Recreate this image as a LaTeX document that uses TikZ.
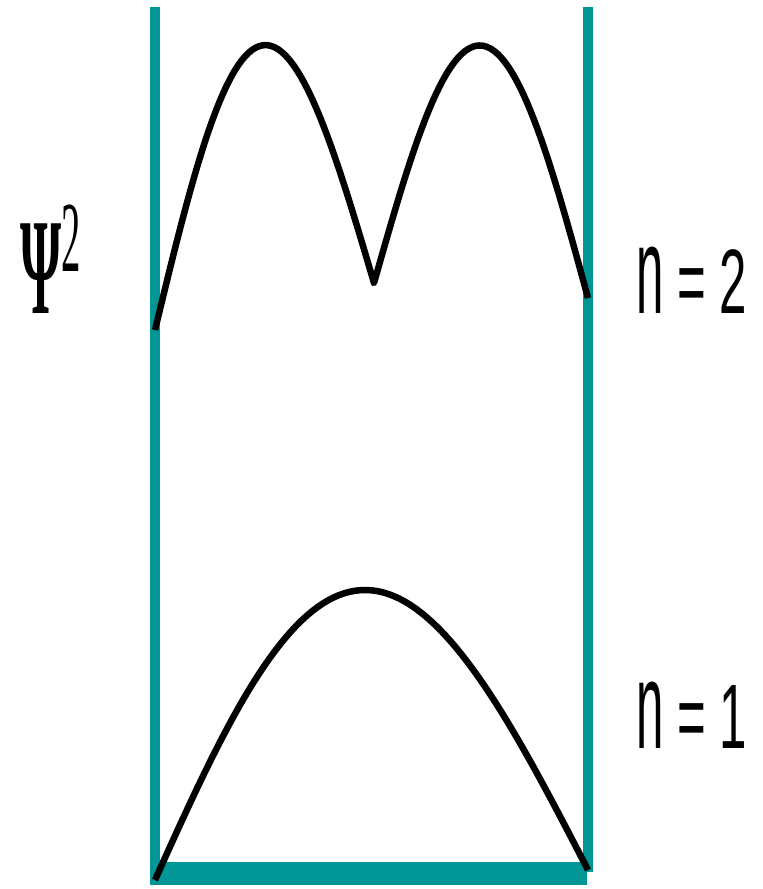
\documentclass[tikz,border=0pt]{standalone}
\usepackage{fontspec}
\setsansfont{Liberation Sans}
\newfontfamily\psifont{Liberation Serif}
\definecolor{wallteal}{RGB}{0,150,150}
\tikzset{
    wall/.style={line width=0.2cm, wallteal},
    wave/.style={line width=0.13cm, black, line join=round},
    level/.style={anchor=base west, inner sep=0pt, font=\sffamily\fontsize{28}{30}\selectfont},
}
\newcommand{\tallbox}[1]{\scalebox{1}[1.86]{#1}}
\begin{document}
\begin{tikzpicture}[x=0.02cm,y=-0.02cm]
        \useasboundingbox (0,0) rectangle (763,889);
        % box
            \draw[wall] (155,7) -- (155,885);
            \draw[wall] (588,7) -- (588,872);
            \fill[wallteal] (150,862) rectangle (587,885);
        % waves
            \draw[wave] plot[domain=0:180,samples=60] ({155+1.2167*\x-3*sin(\x)},{330-0.2611*\x-261*sin(\x)})
                -- plot[domain=0:180,samples=60] ({374+1.1889*\x},{283+0.0833*\x-245*sin(\x)});
            \draw[wave] plot[domain=0:180,samples=80] ({155+2.4056*\x-8*sin(\x)},{880-0.0556*\x-285*sin(\x)});
        % labels
            \node[anchor=base west, inner sep=0pt] (psi) at (20,313)
                {\scalebox{1}[2.6]{{\psifont\bfseries\fontsize{30}{34}\selectfont Ψ}\raisebox{9pt}{\psifont\fontsize{22}{24}\selectfont 2}}};
            \foreach \n/\y in {2/313,1/748}{
                \node[level] (n\n) at (636,\y) {\tallbox{\scalebox{1}[1.35]{n} = \n}};
            }
\end{tikzpicture}
\end{document}
